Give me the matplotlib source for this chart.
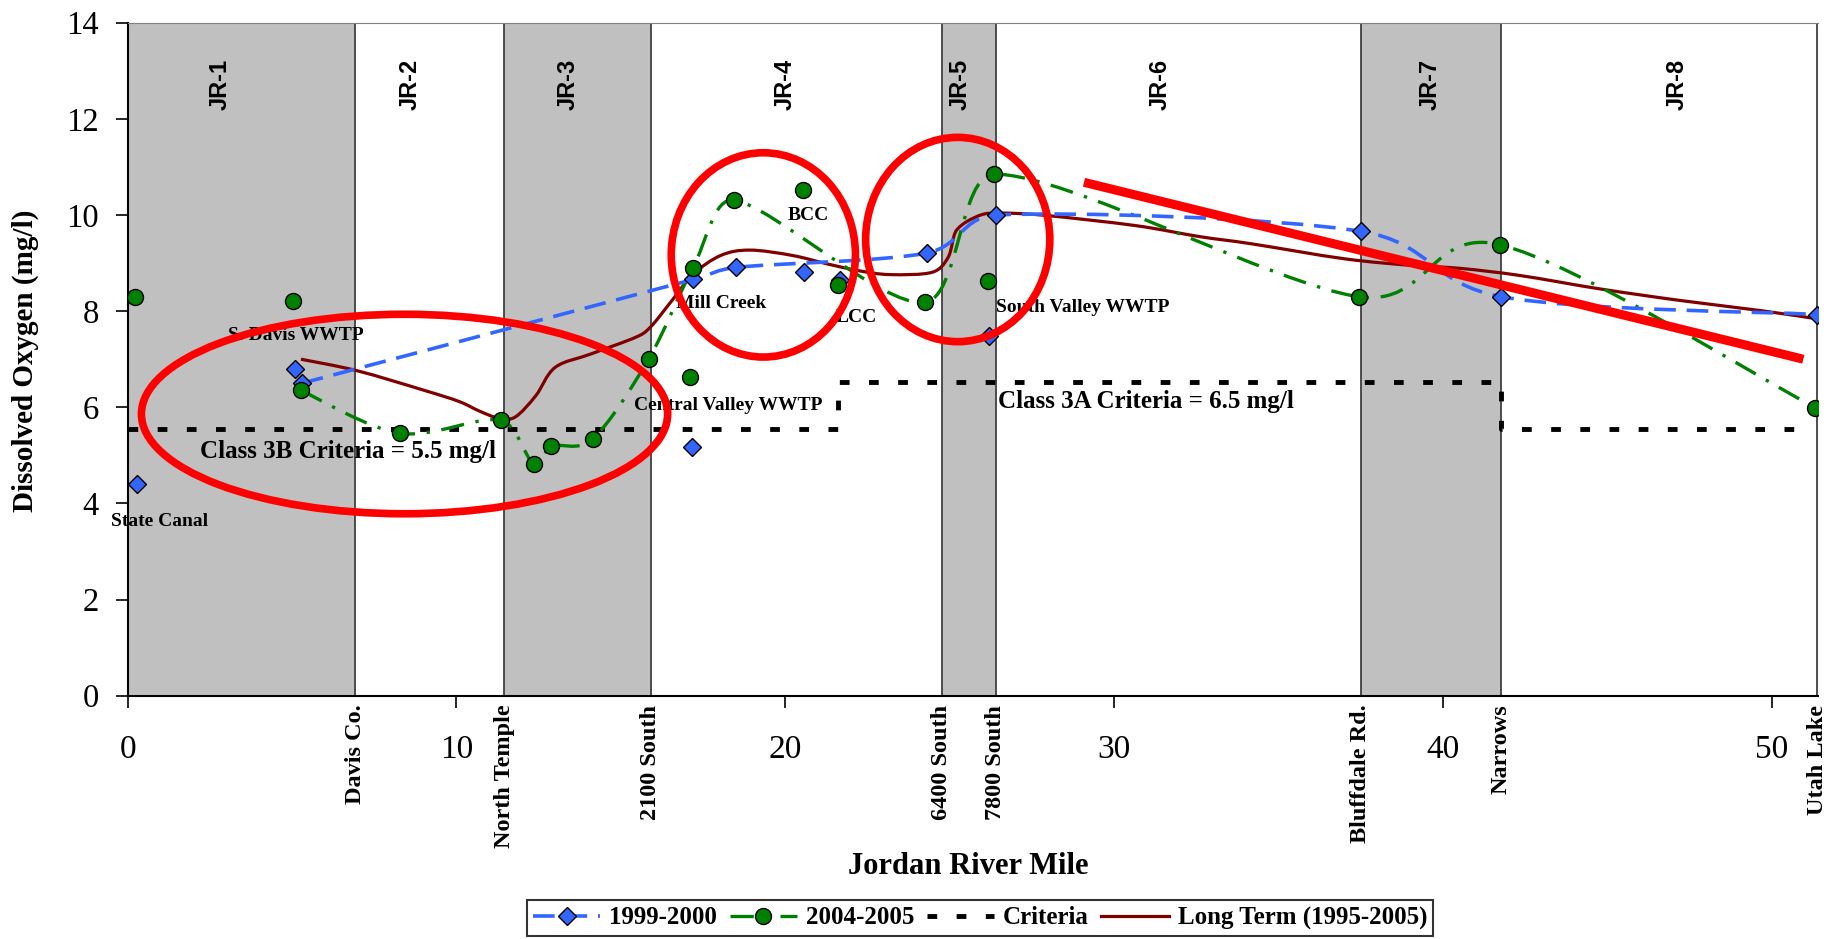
import numpy as np
import matplotlib
matplotlib.use('Agg')
import matplotlib.pyplot as plt
from matplotlib.path import Path
from matplotlib.patches import PathPatch, Ellipse
from matplotlib.lines import Line2D

plt.rcParams['font.family'] = ['Liberation Serif', 'DejaVu Serif']

# sites along the river (band boundaries)
site_names = ['Davis Co.', 'North Temple', '2100 South', '6400 South', '7800 South',
              'Bluffdale Rd.', 'Narrows', 'Utah Lake']
site_miles = [6.92, 11.45, 15.91, 24.75, 26.40, 37.50, 41.77, 51.37]
reach_names = ['JR-1', 'JR-2', 'JR-3', 'JR-4', 'JR-5', 'JR-6', 'JR-7', 'JR-8']
reach_label_x = [2.8, 8.6, 13.4, 20.0, 25.3, 31.4, 39.6, 47.1]

# 1999-2000 main stem + tributaries / WWTP points
x_9900 = [5.30, 17.20, 18.51, 24.30, 26.41, 37.50, 41.77, 51.37]
do_9900 = [6.50, 8.66, 8.91, 9.21, 10.00, 9.66, 8.30, 7.93]
x_9900_trib = [0.28, 5.09, 17.15, 20.58, 21.65, 26.20]
do_9900_trib = [4.40, 6.80, 5.18, 8.81, 8.64, 7.49]

# 2004-2005 main stem + tributaries / WWTP points
x_0405 = [5.27, 8.29, 11.35, 12.36, 12.88, 14.15, 15.84, 17.18, 18.44, 24.23, 26.34,
          37.44, 41.74, 51.32]
do_0405 = [6.35, 5.46, 5.73, 4.81, 5.19, 5.35, 7.00, 8.89, 10.31, 8.18, 10.85,
           8.30, 9.38, 5.99]
x_0405_trib = [0.21, 5.03, 17.09, 20.54, 21.59, 26.17]
do_0405_trib = [8.29, 8.21, 6.62, 10.52, 8.55, 8.62]

# long term (1995-2005) curve
x_lt = [5.27, 6.98, 9.03, 10.08, 10.70, 11.30, 11.79, 12.41, 13.00, 14.09, 15.46, 15.90,
        16.55, 17.20, 18.04, 18.92, 20.20, 21.29, 22.24, 23.19, 24.47, 24.95, 25.20,
        25.90, 26.57, 27.93, 30.64, 32.60, 34.18, 36.99, 39.06, 40.52, 42.35, 44.79,
        47.23, 49.67, 51.37]
do_lt = [7.00, 6.76, 6.35, 6.12, 5.92, 5.77, 5.80, 6.24, 6.83, 7.11, 7.46, 7.67,
         8.22, 8.77, 9.16, 9.27, 9.16, 8.98, 8.84, 8.76, 8.81, 9.12, 9.68,
         9.99, 10.04, 9.99, 9.78, 9.55, 9.40, 9.09, 8.95, 8.89, 8.74, 8.46,
         8.22, 8.01, 7.84]

# criteria step line
x_crit = [0.0, 21.6, 21.6, 41.77, 41.77, 50.85]
do_crit = [5.55, 5.55, 6.52, 6.52, 5.55, 5.55]

# point labels
pt_labels = ['State Canal', 'S. Davis WWTP', 'Mill Creek', 'BCC', 'LCC',
             'Central Valley WWTP', 'South Valley WWTP']
pt_label_x = [0.96, 5.11, 18.05, 20.70, 22.15, 18.25, 29.05]
pt_label_y = [3.63, 7.49, 8.15, 9.99, 7.87, 6.04, 8.08]


def smooth_path(xs, ys):
    # Excel-like smoothed line: Catmull-Rom turned into cubic Bezier segments
    p = np.column_stack([xs, ys]).astype(float)
    n = len(p)
    tang = []
    for i in range(n):
        a = p[max(i - 1, 0)]
        b = p[min(i + 1, n - 1)]
        tang.append((b - a) / 6.0)
    verts = [p[0]]
    codes = [Path.MOVETO]
    for i in range(n - 1):
        h = p[i + 1, 0] - p[i, 0]
        t1 = tang[i]
        t2 = tang[i + 1]
        if abs(t1[0]) > 0.5 * h:
            t1 = t1 * (0.5 * h / abs(t1[0]))
        if abs(t2[0]) > 0.5 * h:
            t2 = t2 * (0.5 * h / abs(t2[0]))
        verts += [p[i] + t1, p[i + 1] - t2, p[i + 1]]
        codes += [Path.CURVE4] * 3
    return Path(verts, codes)


fig = plt.figure(figsize=(18.29, 9.39), dpi=100)
ax = fig.add_axes([0.06977, 0.2591, 0.92427, 0.7167])

# reach bands
edges = [0.0] + site_miles
for i in range(len(reach_names)):
    if i % 2 == 0:
        ax.axvspan(edges[i], edges[i + 1], color='#C0C0C0', zorder=0, lw=0)
for m in site_miles:
    ax.axvline(m, color='#404040', lw=1.3, zorder=1)
for name, xr in zip(reach_names, reach_label_x):
    ax.text(xr, 12.72, name, rotation=90, ha='center', va='center', fontsize=17,
            fontweight='bold', family='Liberation Sans', zorder=5)

# criteria
ax.plot(x_crit, do_crit, color='black', lw=3.5, dashes=(2, 4), solid_capstyle='butt',
        dash_capstyle='butt', zorder=2)

# smoothed lines
ax.add_patch(PathPatch(smooth_path(x_lt, do_lt), fill=False, edgecolor='#800000',
                       lw=2.3, zorder=3))
ax.add_patch(PathPatch(smooth_path(x_0405, do_0405), fill=False, edgecolor='#008000',
                       lw=2.4, linestyle=(0, (7, 3.5, 1, 3.5)), zorder=3))
ax.add_patch(PathPatch(smooth_path(x_9900, do_9900), fill=False, edgecolor='#3366FF',
                       lw=2.6, linestyle=(0, (6, 3)), zorder=3))

# markers
ax.plot(x_9900 + x_9900_trib, do_9900 + do_9900_trib, 'D', ms=9, mfc='#3366FF',
        mec='black', mew=1, ls='none', zorder=4)
ax.plot(x_0405 + x_0405_trib, do_0405 + do_0405_trib, 'o', ms=11.5, mfc='#008000',
        mec='black', mew=1, ls='none', zorder=4)

for t, xx, yy in zip(pt_labels, pt_label_x, pt_label_y):
    ax.text(xx, yy, t, ha='center', va='center', fontsize=14, fontweight='bold', zorder=5)
ax.text(6.7, 5.09, 'Class 3B Criteria = 5.5 mg/l', ha='center', va='center',
        fontsize=18, fontweight='bold', zorder=5)
ax.text(30.97, 6.12, 'Class 3A Criteria = 6.5 mg/l', ha='center', va='center',
        fontsize=18, fontweight='bold', zorder=5)

# red emphasis marks
for cx, cy, w, h in [(8.42, 5.86, 16.0, 4.15), (19.33, 9.17, 5.6, 4.25),
                     (25.24, 9.49, 5.6, 4.25)]:
    ax.add_patch(Ellipse((cx, cy), w, h, fill=False, edgecolor='#FF0000', lw=5.5,
                         zorder=6))
ax.plot([29.08, 50.95], [10.68, 7.0], color='#FF0000', lw=6.5, solid_capstyle='butt',
        zorder=6)

# axes
ax.set_xlim(0, 51.4)
ax.set_ylim(0, 14)
ax.set_yticks(np.arange(0, 15, 2))
ax.set_xticks([0, 10, 20, 30, 40, 50])
ax.set_xticks(site_miles, minor=True)
ax.set_xticklabels(site_names, minor=True, rotation=90, fontsize=17.5, fontweight='bold')
ax.tick_params(axis='x', which='minor', length=0, pad=6.5)
ax.tick_params(axis='x', which='major', length=8.6, width=1.2, pad=19, labelsize=24)
ax.tick_params(axis='y', which='major', length=8.6, width=1.2, pad=12, labelsize=23.5)
ax.spines['right'].set_visible(False)
ax.spines['top'].set_color('#808080')
ax.spines['left'].set_linewidth(1.5)
ax.spines['bottom'].set_linewidth(1.5)

fig.text(25 / 1829, 1 - 361 / 939, 'Dissolved Oxygen (mg/l)', rotation=90, ha='center',
         va='center', fontsize=21, fontweight='bold')
fig.text(968 / 1829, 1 - 867 / 939, 'Jordan River Mile', ha='center', va='center',
         fontsize=22, fontweight='bold')

handles = [
    Line2D([], [], color='#3366FF', lw=2.6, ls=(0, (6, 3)), marker='D', ms=9,
           mfc='#3366FF', mec='black'),
    Line2D([], [], color='#008000', lw=2.4, ls=(0, (7, 3.5, 1, 3.5)), marker='o', ms=11.5,
           mfc='#008000', mec='black'),
    Line2D([], [], color='black', lw=3.5, dashes=(2, 4)),
    Line2D([], [], color='#800000', lw=2.3),
]
leg = fig.legend(handles, ['1999-2000', '2004-2005', 'Criteria', 'Long Term (1995-2005)'],
                 loc='center', bbox_to_anchor=(980 / 1829, 1 - 918 / 939), ncol=4,
                 prop={'size': 18, 'weight': 'bold'}, frameon=True, fancybox=False,
                 edgecolor='black', handlelength=2.7, handletextpad=0.35,
                 columnspacing=0.5, borderpad=0.25)
leg.get_frame().set_linewidth(1.5)

fig.savefig('out.png', dpi=100)
